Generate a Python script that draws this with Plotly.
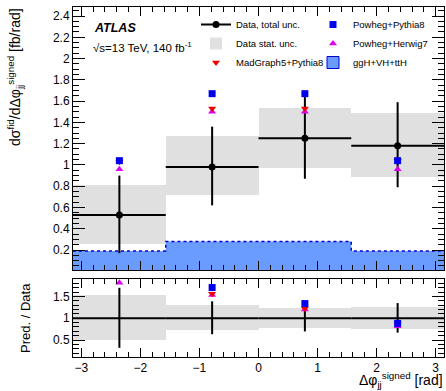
import numpy as np
import plotly.graph_objects as go
from plotly.subplots import make_subplots

PI = np.pi
bin_edges = [-PI, -PI / 2, 0.0, PI / 2, PI]
bin_centers = [-3 * PI / 4, -PI / 4, PI / 4, 3 * PI / 4]
bin_halfwidth = [PI / 4] * 4

data_val = [0.53, 0.98, 1.25, 1.18]
data_tot_up = [0.90, 1.36, 1.67, 1.59]
data_tot_dn = [0.17, 0.62, 0.87, 0.79]
data_stat_up = [0.81, 1.27, 1.54, 1.49]
data_stat_dn = [0.26, 0.72, 0.97, 0.89]

powheg_py8 = [1.04, 1.67, 1.67, 1.04]
powheg_hw7 = [0.96, 1.50, 1.50, 0.96]
madgraph_py8 = [1.03, 1.53, 1.53, 1.04]
ggh_vh_tth = [0.19, 0.28, 0.28, 0.19]

main_range = [0.012, 2.485]
ratio_range = [0.11, 1.9]

W, H = 446, 391
ML, MR, MT, MB = 73, 2, 7, 34

fig = make_subplots(rows=2, cols=1, shared_xaxes=True, vertical_spacing=0.0,
                    row_heights=[0.75, 0.25])

ph = H - MT - MB
fig.update_layout(
    yaxis=dict(domain=[(357 - 270) / ph, 1.0]),
    yaxis2=dict(domain=[0.0, (357 - 279) / ph]),
)

dv = np.array(data_val)
grey = "#e0e0e0"
blue_fill = "#6a9cff"
blue_line = "#0000dd"

# ---- stat band (main)
fig.add_trace(go.Bar(x=bin_centers, y=np.array(data_stat_up) - np.array(data_stat_dn),
                     base=data_stat_dn, width=PI / 2, marker=dict(color=grey, line=dict(width=0)),
                     name="Data stat. unc.", legend="legend", legendrank=2), row=1, col=1)

# ---- ggH+VH+ttH histogram
fig.add_trace(go.Scatter(x=bin_edges, y=ggh_vh_tth + [ggh_vh_tth[-1]], mode="lines",
                         line=dict(shape="hv", color=blue_line, width=1.5, dash="dot"),
                         fill="tozeroy", fillcolor=blue_fill, showlegend=False), row=1, col=1)
# legend entry for it
fig.add_trace(go.Bar(x=[None], y=[None], marker=dict(color=blue_fill, line=dict(color=blue_line, width=1)),
                     name="ggH+VH+ttH", legend="legend2", legendrank=3), row=1, col=1)

# ---- data with total unc.
fig.add_trace(go.Scatter(x=bin_centers, y=data_val, mode="markers",
                         marker=dict(color="black", size=7),
                         error_x=dict(type="data", array=bin_halfwidth, color="black", thickness=2, width=0),
                         error_y=dict(type="data", symmetric=False,
                                      array=np.array(data_tot_up) - dv,
                                      arrayminus=dv - np.array(data_tot_dn),
                                      color="black", thickness=2, width=0),
                         showlegend=False), row=1, col=1)

# predictions main
fig.add_trace(go.Scatter(x=bin_centers, y=powheg_hw7, mode="markers",
                         marker=dict(color="#dd00ee", size=7, symbol="triangle-up"),
                         name="Powheg+Herwig7", legend="legend2", legendrank=2), row=1, col=1)
fig.add_trace(go.Scatter(x=bin_centers, y=madgraph_py8, mode="markers",
                         marker=dict(color="#ee0000", size=7, symbol="triangle-down"),
                         name="MadGraph5+Pythia8", legend="legend", legendrank=3), row=1, col=1)
fig.add_trace(go.Scatter(x=bin_centers, y=powheg_py8, mode="markers",
                         marker=dict(color="#0000ee", size=7, symbol="square"),
                         name="Powheg+Pythia8", legend="legend2", legendrank=1), row=1, col=1)

# legend-only entry for data
fig.add_trace(go.Scatter(x=[None], y=[None], mode="lines+markers",
                         marker=dict(color="black", size=7), line=dict(color="black", width=2),
                         name="Data, total unc.", legend="legend", legendrank=1), row=1, col=1)

# ---- ratio panel
fig.add_trace(go.Bar(x=bin_centers, y=(np.array(data_stat_up) - np.array(data_stat_dn)) / dv,
                     base=np.array(data_stat_dn) / dv, width=PI / 2,
                     marker=dict(color=grey, line=dict(width=0)), showlegend=False), row=2, col=1)
fig.add_trace(go.Scatter(x=bin_centers, y=dv / dv, mode="lines",
                         line=dict(width=0), showlegend=False,
                         error_x=dict(type="data", array=bin_halfwidth, color="black", thickness=2, width=0),
                         error_y=dict(type="data", symmetric=False,
                                      array=(np.array(data_tot_up) - dv) / dv,
                                      arrayminus=(dv - np.array(data_tot_dn)) / dv,
                                      color="black", thickness=2, width=0)), row=2, col=1)


def ratio(p):
    r = np.array(p) / dv
    return [v if v <= ratio_range[1] - 0.03 else None for v in r]


fig.add_trace(go.Scatter(x=bin_centers, y=ratio(powheg_hw7), mode="markers",
                         marker=dict(color="#dd00ee", size=7, symbol="triangle-up"), showlegend=False), row=2, col=1)
fig.add_trace(go.Scatter(x=bin_centers, y=ratio(madgraph_py8), mode="markers",
                         marker=dict(color="#ee0000", size=7, symbol="triangle-down"), showlegend=False), row=2, col=1)
fig.add_trace(go.Scatter(x=bin_centers, y=ratio(powheg_py8), mode="markers",
                         marker=dict(color="#0000ee", size=7, symbol="square"), showlegend=False), row=2, col=1)

font_family = "Liberation Sans, Arial, sans-serif"
axis_common = dict(showline=True, linecolor="black", linewidth=1, mirror="allticks",
                   ticks="inside", tickcolor="black", showgrid=False, zeroline=False,
                   tickfont=dict(family=font_family, size=12, color="black"))

fig.update_xaxes(range=[-PI, PI], dtick=1, tick0=0, ticklen=9,
                 minor=dict(dtick=0.2, ticklen=5, ticks="inside", tickcolor="black"),
                 **axis_common)
fig.update_xaxes(showticklabels=False, row=1, col=1)
fig.update_yaxes(range=main_range, dtick=0.2, tick0=0, ticklen=12,
                 minor=dict(dtick=0.05, ticklen=6, ticks="inside", tickcolor="black"),
                 row=1, col=1, **axis_common)
fig.update_yaxes(range=ratio_range, tickvals=[0.5, 1, 1.5], ticktext=["0.5", "1", "1.5"], ticklen=12,
                 minor=dict(dtick=0.1, ticklen=6, ticks="inside", tickcolor="black"),
                 row=2, col=1, **axis_common)

pw = W - ML - MR


def px_x(x):
    return (x - ML) / pw


def px_y(y):
    return (H - MB - y) / ph


legend_common = dict(font=dict(family=font_family, size=9.5, color="black"), bgcolor="rgba(0,0,0,0)",
                     borderwidth=0, orientation="v", xanchor="left", yanchor="top",
                     tracegroupgap=0, itemwidth=30, traceorder="normal")

fig.update_layout(
    width=W, height=H,
    margin=dict(l=ML, r=MR, t=MT, b=MB),
    paper_bgcolor="white", plot_bgcolor="white",
    barmode="overlay", bargap=0,
    font=dict(family=font_family, color="black"),
    legend=dict(x=px_x(196), y=px_y(10), **legend_common),
    legend2=dict(x=px_x(313), y=px_y(10), **legend_common),
    annotations=[
        dict(text="<b><i>ATLAS</i></b>", x=px_x(92), y=px_y(28), xref="paper", yref="paper",
             xanchor="left", yanchor="middle", showarrow=False, font=dict(size=12.5, family=font_family)),
        dict(text="√s=13 TeV, 140 fb<sup>-1</sup>", x=px_x(91), y=px_y(47), xref="paper", yref="paper",
             xanchor="left", yanchor="middle", showarrow=False, font=dict(size=11.5, family=font_family)),
        dict(text="dσ<sup>fid</sup>/dΔφ<sub>jj</sub><sup>signed</sup> [fb/rad]", textangle=-90,
             x=px_x(15), y=px_y(6), xref="paper", yref="paper", xanchor="center", yanchor="top",
             showarrow=False, font=dict(size=14, family=font_family)),
        dict(text="Pred. / Data", textangle=-90,
             x=px_x(25), y=px_y(318), xref="paper", yref="paper", xanchor="center", yanchor="middle",
             showarrow=False, font=dict(size=13, family=font_family)),
        dict(text="Δφ<sub>jj</sub><sup>signed</sup> [rad]",
             x=px_x(445), y=px_y(380), xref="paper", yref="paper", xanchor="right", yanchor="middle",
             showarrow=False, font=dict(size=14, family=font_family)),
    ],
)

fig.write_html("out.html")
